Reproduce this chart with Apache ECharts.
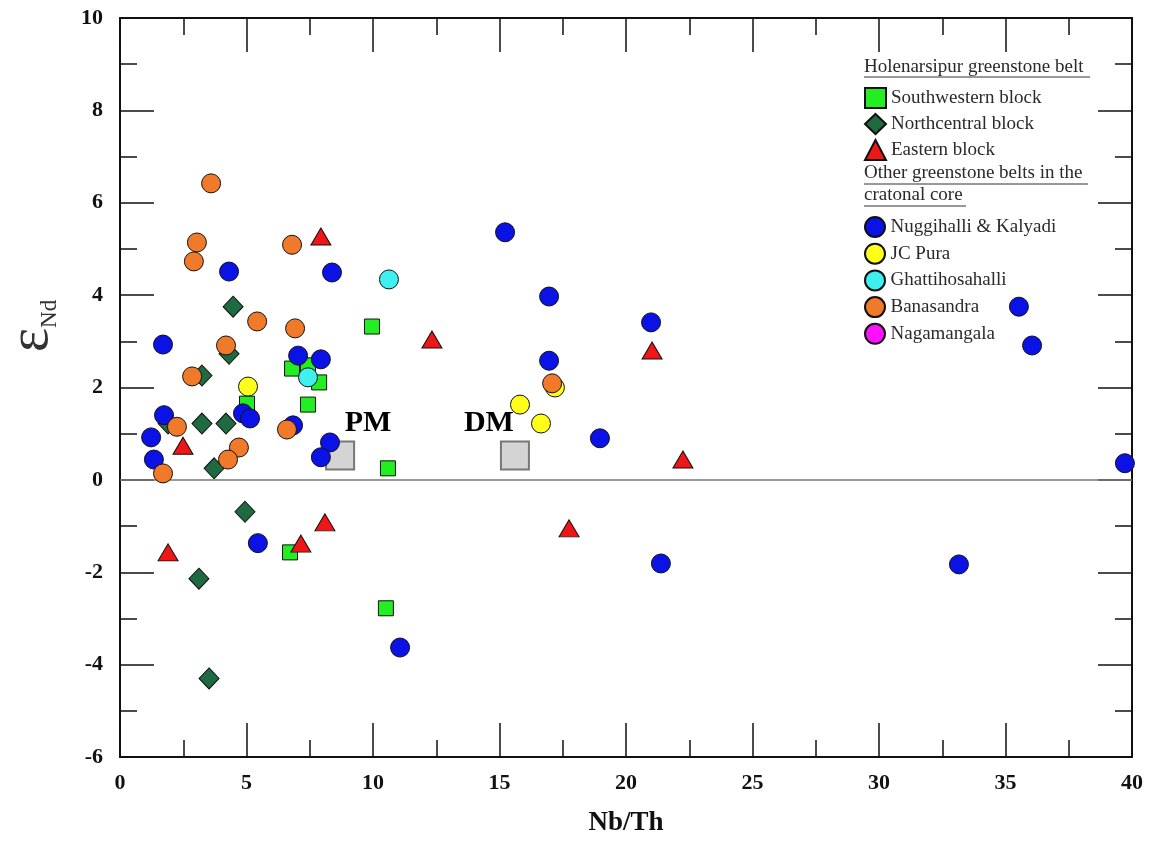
<!DOCTYPE html>
<html><head><meta charset="utf-8">
<script src="https://cdn.jsdelivr.net/npm/echarts@6/dist/echarts.min.js"></script>
<style>html,body{margin:0;padding:0;background:#fff}#c{width:1159px;height:842px}</style>
</head><body><div id="c"></div>
<script>
// ---- data (Nb/Th, εNd) ----
const southwestern = [[6.80,2.41],[7.43,2.48],[7.87,2.11],[7.43,1.63],[5.02,1.65],[9.96,3.32],[10.59,0.25],[6.72,-1.57],[10.51,-2.78]];
const northcentral = [[4.47,3.75],[4.31,2.73],[3.24,2.26],[3.24,1.22],[4.19,1.22],[3.72,0.25],[1.90,1.22],[4.94,-0.69],[3.12,-2.14],[3.52,-4.30]];
const eastern = [[7.94,5.27],[2.49,0.74],[12.33,3.04],[21.03,2.80],[22.25,0.44],[1.90,-1.57],[7.15,-1.38],[8.10,-0.92],[17.75,-1.05]];
const nuggihalli = [[1.23,0.92],[1.34,0.44],[1.74,1.40],[1.70,2.93],[4.31,4.51],[4.86,1.44],[5.14,1.33],[5.45,-1.37],[6.84,1.18],[7.04,2.69],[7.94,2.61],[8.38,4.49],[8.30,0.81],[7.94,0.49],[15.22,5.36],[16.96,3.97],[16.96,2.58],[18.97,0.90],[20.99,3.41],[21.38,-1.81],[11.07,-3.63],[33.16,-1.83],[35.53,3.75],[36.05,2.91],[39.72,0.36]];
const jcPura = [[5.06,2.02],[15.81,1.63],[16.64,1.22],[17.19,2.00]];
const ghattihosahalli = [[10.63,4.34],[7.43,2.22]];
const banasandra = [[3.60,6.42],[3.04,5.14],[2.92,4.73],[6.80,5.09],[5.42,3.43],[6.92,3.28],[4.19,2.91],[2.85,2.24],[2.25,1.15],[1.70,0.14],[4.70,0.70],[4.27,0.44],[6.60,1.09],[17.08,2.09]];
const nagamangala = [];
const refNames = ['PM','DM'];
const refPoints = [[8.70,0.53],[15.61,0.53]];

const X_MIN = 0, X_MAX = 40, X_INT = 5;
const Y_MIN = -6, Y_MAX = 10, Y_INT = 2;

const FONT = 'Liberation Serif';
const chart = echarts.init(document.getElementById('c'));

const axisCommon = {
  axisLine: {show: true, onZero: false, lineStyle: {color: '#111', width: 2}},
  axisTick: {show: true, inside: true, length: 34, lineStyle: {color: '#111', width: 1.5}},
  minorTick: {show: true, splitNumber: 2, length: 17, lineStyle: {color: '#111', width: 1.5}},
  splitLine: {show: false}
};

function sc(name, data, symbol, size, color, extra) {
  return Object.assign({
    type: 'scatter', name: name, data: data, symbol: symbol, symbolSize: size,
    itemStyle: {color: color, borderColor: '#111', borderWidth: 1, opacity: 1},
    emphasis: {disabled: true}
  }, extra || {});
}

const legendText = {fontFamily: FONT, fontSize: 19, color: '#2a2a2a'};
const headFont = '19px "Liberation Serif"';

chart.setOption({
  animation: false,
  backgroundColor: '#fff',
  grid: {left: 120, right: 27, top: 18, bottom: 85},
  xAxis: [
    Object.assign({type: 'value', min: X_MIN, max: X_MAX, interval: X_INT, position: 'bottom',
      name: 'Nb/Th', nameLocation: 'middle', nameGap: 53,
      nameTextStyle: {fontFamily: FONT, fontSize: 27, fontWeight: 'bold', color: '#111'},
      axisLabel: {fontFamily: FONT, fontSize: 22, fontWeight: 'bold', color: '#111', margin: 15}}, axisCommon),
    Object.assign({type: 'value', min: X_MIN, max: X_MAX, interval: X_INT, position: 'top',
      axisLabel: {show: false}}, axisCommon)
  ],
  yAxis: [
    Object.assign({type: 'value', min: Y_MIN, max: Y_MAX, interval: Y_INT, position: 'left',
      axisLabel: {fontFamily: FONT, fontSize: 22, fontWeight: 'bold', color: '#111', margin: 17}}, axisCommon),
    Object.assign({type: 'value', min: Y_MIN, max: Y_MAX, interval: Y_INT, position: 'right',
      axisLabel: {show: false}}, axisCommon)
  ],
  legend: [
    {left: 864, top: 87, orient: 'vertical', itemWidth: 21, itemHeight: 20, itemGap: 4, padding: 0,
     selectedMode: false, textStyle: legendText,
     data: ['Southwestern block', 'Northcentral block', 'Eastern block']},
    {left: 864, top: 216, orient: 'vertical', itemWidth: 21, itemHeight: 20, itemGap: 4.7, padding: 0,
     selectedMode: false, textStyle: legendText,
     data: ['Nuggihalli & Kalyadi', 'JC Pura', 'Ghattihosahalli', 'Banasandra', 'Nagamangala']}
  ],
  graphic: [
    {type: 'text', left: 864, top: 58, style: {text: 'Holenarsipur greenstone belt', font: headFont, fill: '#2a2a2a'}},
    {type: 'line', shape: {x1: 864, y1: 77, x2: 1090, y2: 77}, style: {stroke: '#333', lineWidth: 1}},
    {type: 'text', left: 864, top: 164, style: {text: 'Other greenstone belts in the', font: headFont, fill: '#2a2a2a'}},
    {type: 'line', shape: {x1: 864, y1: 184, x2: 1088, y2: 184}, style: {stroke: '#333', lineWidth: 1}},
    {type: 'text', left: 864, top: 186, style: {text: 'cratonal core', font: headFont, fill: '#2a2a2a'}},
    {type: 'line', shape: {x1: 864, y1: 206, x2: 966, y2: 206}, style: {stroke: '#333', lineWidth: 1}},
    {type: 'text', x: 32, y: 326, rotation: Math.PI / 2,
     style: {text: '{e|ε}{s|Nd}', align: 'center', verticalAlign: 'middle',
       rich: {e: {fontFamily: FONT, fontSize: 58, fill: '#333'},
              s: {fontFamily: FONT, fontSize: 23, fill: '#333', verticalAlign: 'bottom', padding: [22, 0, 0, 0]}}}}
  ],
  series: [
    sc('Southwestern block', southwestern, 'rect', 15, '#22ee22', {
      markLine: {silent: true, symbol: 'none', label: {show: false},
        lineStyle: {color: '#777', width: 1.5, type: 'solid'}, data: [{yAxis: 0}]}, z: 2}),
    sc('Northcentral block', northcentral, 'diamond', [20, 21], '#1f6a40', {z: 3}),
    sc('Eastern block', eastern, 'triangle', [20, 17], '#ee1616', {z: 4}),
    sc('Nuggihalli & Kalyadi', nuggihalli, 'circle', 19, '#0b12e6', {z: 5}),
    sc('JC Pura', jcPura, 'circle', 19, '#ffff1a', {z: 6}),
    sc('Ghattihosahalli', ghattihosahalli, 'circle', 19, '#3ff0f0', {z: 7}),
    sc('Banasandra', banasandra, 'circle', 19, '#f07a2a', {z: 8}),
    sc('Nagamangala', nagamangala, 'circle', 19, '#ff10ff', {z: 8}),
    {type: 'scatter', name: 'ref', symbol: 'rect', symbolSize: 28, z: 1,
     itemStyle: {color: '#d4d4d4', borderColor: '#777', borderWidth: 2, opacity: 1},
     emphasis: {disabled: true},
     label: {show: true, formatter: '{b}', position: 'top', distance: 2,
       fontFamily: FONT, fontSize: 30, fontWeight: 'bold', color: '#000', opacity: 1,
       textBorderWidth: 0},
     data: refPoints.map((p, i) => ({value: p, name: refNames[i],
       label: {offset: i === 0 ? [28, 0] : [-26, 0]}}))}
  ]
});
</script></body></html>
